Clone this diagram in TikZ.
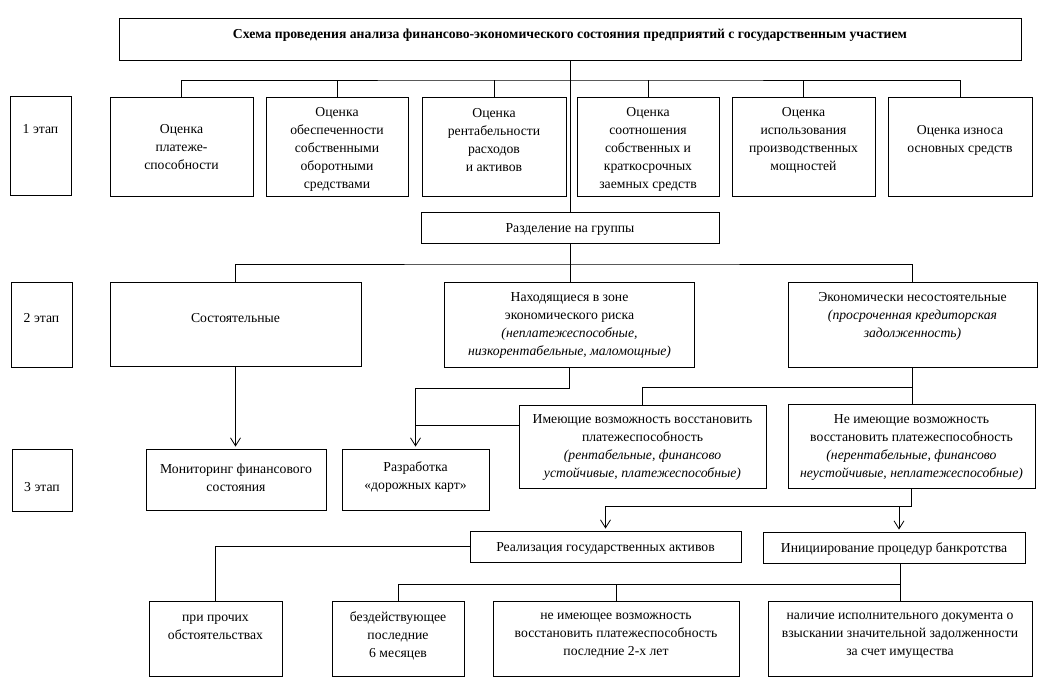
\documentclass[tikz,border=0pt]{standalone}
\usepackage{fontspec}
\setmainfont{Liberation Serif}
\usetikzlibrary{arrows.meta}
\newcommand\fs{\fontsize{13.7pt}{18pt}\selectfont}
\begin{document}
\begin{tikzpicture}[x=1pt,y=-1pt,
  box/.style={draw, line width=0.9pt, inner sep=0pt, rectangle},
  txt/.style={align=center, inner sep=0pt, font=\fs},
  conn/.style={line width=0.8pt},
  arr/.style={conn, -{Straight Barb[length=8pt,width=10pt]}, shorten >=2pt}]
\useasboundingbox (0,0) rectangle (1044,696);
% boxes
\node[box, minimum width=902pt, minimum height=42pt] (title) at (570,39) {};
\node[box, minimum width=61pt, minimum height=99pt] (L1) at (40.5,145.5) {};
\node[box, minimum width=61pt, minimum height=85pt] (L2) at (41.5,324.5) {};
\node[box, minimum width=60pt, minimum height=62pt] (L3) at (42,480) {};
\node[box, minimum width=143pt, minimum height=99pt] (b1) at (181.5,146.5) {};
\node[box, minimum width=142pt, minimum height=99pt] (b2) at (337,146.5) {};
\node[box, minimum width=144pt, minimum height=99pt] (b3) at (494,146.5) {};
\node[box, minimum width=142pt, minimum height=99pt] (b4) at (648,146.5) {};
\node[box, minimum width=143pt, minimum height=99pt] (b5) at (803.5,146.5) {};
\node[box, minimum width=144pt, minimum height=99pt] (b6) at (960,146.5) {};
\node[box, minimum width=298pt, minimum height=31pt] (razd) at (570,227.5) {};
\node[box, minimum width=251pt, minimum height=84pt] (sost) at (235.5,324) {};
\node[box, minimum width=250pt, minimum height=85pt] (nah) at (569.5,324.5) {};
\node[box, minimum width=249pt, minimum height=85pt] (ekon) at (912.5,324.5) {};
\node[box, minimum width=180pt, minimum height=61pt] (monit) at (236,479.5) {};
\node[box, minimum width=147pt, minimum height=61pt] (razr) at (415.5,479.5) {};
\node[box, minimum width=247pt, minimum height=83pt] (imeu) at (642.5,446.5) {};
\node[box, minimum width=247pt, minimum height=84pt] (nimeu) at (911.5,446) {};
\node[box, minimum width=271pt, minimum height=31pt] (real) at (605.5,546.5) {};
\node[box, minimum width=262pt, minimum height=31pt] (init) at (894,547.5) {};
\node[box, minimum width=133pt, minimum height=75pt] (proch) at (215.5,638.5) {};
\node[box, minimum width=132pt, minimum height=75pt] (bezd) at (398,638.5) {};
\node[box, minimum width=246pt, minimum height=75pt] (neim) at (616,638.5) {};
\node[box, minimum width=264pt, minimum height=75pt] (nal) at (900,638.5) {};
% texts
\node[txt, font=\fs\bfseries] (titlet) at (570,35) {Схема проведения анализа финансово-экономического состояния предприятий с государственным участием};
\node[txt] (L1t) at (40.5,129) {1 этап};
\node[txt] (L2t) at (41.5,318) {2 этап};
\node[txt] (L3t) at (42,487) {3 этап};
\node[txt] (b1t) at (181.5,147.5) {Оценка\\платеже-\\способности};
\node[txt] (b2t) at (337,149) {Оценка\\обеспеченности\\собственными\\оборотными\\средствами};
\node[txt] (b3t) at (494,140.5) {Оценка\\рентабельности\\расходов\\и активов};
\node[txt] (b4t) at (648,149) {Оценка\\соотношения\\собственных и\\краткосрочных\\заемных средств};
\node[txt] (b5t) at (803.5,140.5) {Оценка\\использования\\производственных\\мощностей};
\node[txt] (b6t) at (960,140.5) {Оценка износа\\основных средств};
\node[txt] (razdt) at (570,229.5) {Разделение на группы};
\node[txt] (sostt) at (235.5,318) {Состоятельные};
\node[txt] (naht) at (569.5,325) {Находящиеся в зоне\\экономического риска\\\textit{(неплатежеспособные,}\\\textit{низкорентабельные, маломощные)}};
\node[txt] (ekont) at (912.5,316.5) {Экономически несостоятельные\\\textit{(просроченная кредиторская}\\\textit{задолженность)}};
\node[txt] (monitt) at (236,477.5) {Мониторинг финансового\\состояния};
\node[txt] (razrt) at (415.5,477.5) {Разработка\\«дорожных карт»};
\node[txt] (imeut) at (642.5,447.5) {Имеющие возможность восстановить\\платежеспособность\\\textit{(рентабельные, финансово}\\\textit{устойчивые, платежеспособные)}};
\node[txt] (nimeut) at (911.5,447.5) {Не имеющие возможность\\восстановить платежеспособность\\\textit{(нерентабельные, финансово}\\\textit{неустойчивые, неплатежеспособные)}};
\node[txt] (realt) at (605.5,548) {Реализация государственных активов};
\node[txt] (initt) at (894,549) {Инициирование процедур банкротства};
\node[txt] (procht) at (215.5,627) {при прочих\\обстоятельствах};
\node[txt] (bezdt) at (398,636) {бездействующее\\последние\\6 месяцев};
\node[txt] (neimt) at (616,636) {не имеющее возможность\\восстановить платежеспособность\\последние 2-х лет};
\node[txt] (nalt) at (900,636) {наличие исполнительного документа о\\взыскании значительной задолженности\\за счет имущества};
% connectors
\coordinate (bus1) at (570,80);
\draw[conn] (title.south) -- (razd.north);
\draw[conn] (b1.north) |- (bus1) -| (b6.north);
\foreach \b in {b2,b3,b4,b5} \draw[conn] (\b.north) -- (\b.north |- bus1);
\coordinate (bus2) at (570,264);
\draw[conn] (razd.south) -- (razd.south |- nah.north);
\draw[conn] (sost.north) |- (bus2) -| (ekon.north);
\draw[arr] (sost.south) -- (sost.south |- monit.north);
\draw[arr] (nah.south) -- ++(0,21) -| (razr.north);
\coordinate (j2) at (415.5,425);
\draw[conn] (imeu.west |- j2) -- (j2);
\draw[conn] (ekon.south) -- (ekon.south |- nimeu.north);
\coordinate (j3) at (ekon.south |- 0,387);
\draw[conn] (j3) -| (imeu.north);
\coordinate (j4) at (nimeu.south |- 0,506);
\draw[conn] (nimeu.south) -- (j4);
\draw[arr] (j4) -| (real.north);
\path (init.north) ++(5,0) coordinate (initin);
\draw[arr] (initin |- j4) -- (initin);
\draw[conn] (real.west) -| (proch.north);
\coordinate (bus3) at (nal.north |- 0,584);
\draw[conn] (init.south -| nal.north) -- (nal.north);
\draw[conn] (bezd.north) |- (bus3);
\draw[conn] (neim.north) -- (neim.north |- bus3);
\end{tikzpicture}
\end{document}
